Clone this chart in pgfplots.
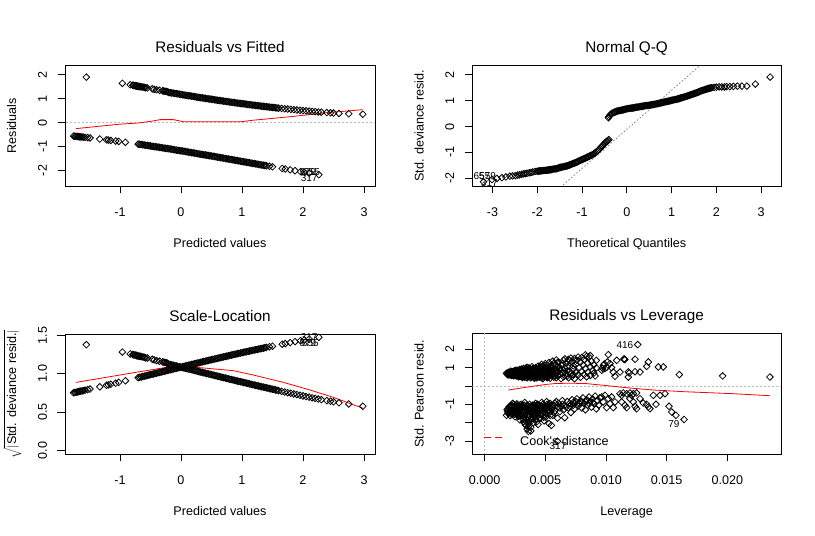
\documentclass[border=0pt]{standalone}
\usepackage{fontspec}
\setmainfont{Liberation Sans}
\usepackage{pgfplots}
\pgfplotsset{compat=1.18}
\pgfplotsset{
  rd/.style={
    scale only axis, anchor=south west, clip=true,
    axis line style={line width=0.8pt},
    tick align=outside, major tick length=7.5pt,
    xtick pos=bottom, ytick pos=left,
    tick style={black, line width=0.8pt},
    tick label style={font=\fontsize{12.6}{15}\selectfont},
    label style={font=\fontsize{12.6}{15}\selectfont},
    xticklabel style={anchor=base, yshift=-23pt},
    yticklabel style={xshift=-10.7pt, rotate=90, anchor=base},
    xlabel style={at={(axis description cs:0.5,0)}, anchor=base, yshift=-61.5pt},
    ylabel style={at={(axis description cs:-0.158,0.5)}, anchor=base},
    title style={at={(axis description cs:0.5,1)}, anchor=base, yshift=6.5pt, font=\fontsize{15.3}{18}\selectfont},
    scaled ticks=false,
  },
  pts/.style={only marks, mark=square, mark size=2.35pt, mark options={rotate=45, line width=0.8pt, draw=black, fill=none}},
}
\tikzset{idl/.style={font=\fontsize{10}{12}\selectfont, text=black, inner sep=0pt}}
\begin{document}
\begin{tikzpicture}
\useasboundingbox (0pt,0pt) rectangle (815pt,536pt);
% ---------------- Panel 1: Residuals vs Fitted
\begin{axis}[rd, at={(65pt,350pt)}, width=310pt, height=120.7pt,
  xmin=-1.90, xmax=3.18, ymin=-2.646, ymax=2.394,
  xtick={-1,0,1,2,3}, xticklabels={-1,0,1,2,3},
  ytick={-2,-1,0,1,2}, yticklabels={-2,-1,0,1,2},
  title={Residuals vs Fitted}, xlabel={Predicted values}, ylabel={Residuals}]
\addplot[gray!55, dash pattern=on 2pt off 2pt, line width=0.7pt] coordinates {(-3,0) (4,0)};
\addplot[pts] coordinates {
(-1.55,1.90) (-0.96,1.64) (-0.83,1.58) (-0.79,1.56) (-0.77,1.55) (-0.75,1.54) (-0.73,1.53) (-0.71,1.52) (-0.69,1.51) (-0.66,1.50) (-0.62,1.48) (-0.58,1.46) (-0.55,1.45) (-0.47,1.41) (-0.44,1.39) (-0.40,1.37) (-0.30,1.33) (-0.26,1.31) (-0.22,1.29)
(-0.78,1.555) (-0.74,1.535) (-0.72,1.525) (-0.68,1.505) (-0.64,1.49) (-0.60,1.47) (-0.35,1.35) (-0.28,1.32) (-0.24,1.30)
(-0.20,1.263) (-0.15,1.241) (-0.10,1.220) (-0.05,1.198) (0,1.177) (0.05,1.156) (0.10,1.135) (0.15,1.114) (0.20,1.094) (0.25,1.073) (0.30,1.053) (0.35,1.033) (0.40,1.013) (0.45,0.993) (0.50,0.974) (0.55,0.954) (0.60,0.935) (0.65,0.916) (0.70,0.898) (0.75,0.880) (0.80,0.862) (0.85,0.844) (0.90,0.826) (0.95,0.809) (1.00,0.792) (1.05,0.775) (1.10,0.758) (1.15,0.742) (1.20,0.726) (1.25,0.710) (1.30,0.694) (1.35,0.679) (1.40,0.664) (1.45,0.649) (1.50,0.635) (1.55,0.620) (1.60,0.606) (1.65,0.592) (1.70,0.579) (1.75,0.566) (1.80,0.553) (1.85,0.540) (1.90,0.528) (1.95,0.516) (2.00,0.504) (2.05,0.492) (2.10,0.481) (2.15,0.469) (2.20,0.458) (2.25,0.447) (2.30,0.437)
(-0.175,1.252) (-0.125,1.231) (-0.075,1.209) (-0.025,1.188) (0.025,1.167) (0.075,1.146) (0.125,1.125) (0.175,1.104) (0.225,1.084) (0.275,1.063) (0.325,1.043) (0.375,1.023) (0.425,1.003) (0.475,0.984) (0.525,0.964) (0.575,0.945) (0.625,0.926) (0.675,0.907) (0.725,0.889) (0.775,0.871) (0.825,0.853) (0.875,0.835) (0.925,0.818) (0.975,0.801) (1.025,0.784) (1.075,0.767) (1.125,0.750) (1.175,0.734) (1.225,0.718) (1.275,0.702) (1.325,0.687) (1.375,0.672) (1.425,0.657) (1.475,0.642) (1.525,0.628) (1.575,0.613)
(2.39,0.42) (2.45,0.41) (2.50,0.40) (2.59,0.385) (2.75,0.37) (2.98,0.35)
(-1.76,-0.563) (-1.74,-0.568) (-1.72,-0.573) (-1.70,-0.579) (-1.68,-0.585) (-1.66,-0.590) (-1.64,-0.596) (-1.62,-0.601) (-1.60,-0.606) (-1.57,-0.615) (-1.53,-0.626) (-1.49,-0.638)
(-1.33,-0.685) (-1.22,-0.719) (-1.19,-0.727) (-1.15,-0.742) (-1.07,-0.768) (-1.02,-0.785) (-0.91,-0.822)
(-0.70,-0.898) (-0.65,-0.916) (-0.60,-0.935) (-0.55,-0.954) (-0.50,-0.974) (-0.45,-0.993) (-0.40,-1.013) (-0.35,-1.033) (-0.30,-1.053) (-0.25,-1.073) (-0.20,-1.094) (-0.15,-1.114) (-0.10,-1.135) (-0.05,-1.156) (0,-1.177) (0.05,-1.198) (0.10,-1.220) (0.15,-1.241) (0.20,-1.263) (0.25,-1.285) (0.30,-1.307) (0.35,-1.329) (0.40,-1.351) (0.45,-1.373) (0.50,-1.396) (0.55,-1.418) (0.60,-1.440) (0.65,-1.462) (0.70,-1.485) (0.75,-1.507) (0.80,-1.530) (0.85,-1.553) (0.90,-1.576) (0.95,-1.598) (1.00,-1.621) (1.05,-1.643) (1.10,-1.666) (1.15,-1.688) (1.20,-1.711) (1.25,-1.733) (1.30,-1.756) (1.35,-1.778) (1.40,-1.800) (1.45,-1.823) (1.50,-1.845)
(-0.675,-0.907) (-0.625,-0.926) (-0.575,-0.945) (-0.525,-0.964) (-0.475,-0.984) (-0.425,-1.003) (-0.375,-1.023) (-0.325,-1.043) (-0.275,-1.063) (-0.225,-1.084) (-0.175,-1.104) (-0.125,-1.125) (-0.075,-1.146) (-0.025,-1.167) (0.025,-1.188) (0.075,-1.209) (0.125,-1.231) (0.175,-1.252) (0.225,-1.274) (0.275,-1.296) (0.325,-1.318) (0.375,-1.340) (0.425,-1.362) (0.475,-1.385) (0.525,-1.407) (0.575,-1.429) (0.625,-1.451) (0.675,-1.474) (0.725,-1.496) (0.775,-1.519) (0.825,-1.542) (0.875,-1.565) (0.925,-1.587) (0.975,-1.610) (1.025,-1.632) (1.075,-1.655) (1.125,-1.677) (1.175,-1.700) (1.225,-1.722) (1.275,-1.745) (1.325,-1.767) (1.375,-1.789)
(1.66,-1.915) (1.71,-1.937) (1.79,-1.972) (1.87,-2.007) (1.96,-2.045) (2.02,-2.071) (2.10,-2.105) (2.26,-2.172)
};
\addplot[red, line width=0.8pt] coordinates {
(-1.721,-0.25) (-1.026,-0.07) (-0.694,-0.014) (-0.454,0.07) (-0.345,0.125) (-0.126,0.125) (0.038,0.04) (0.994,0.04) (1.18,0.10) (1.84,0.26) (2.33,0.40) (2.976,0.54)
};
\node[idl] at (axis cs:2.08,-2.06) {579};
\node[idl] at (axis cs:2.14,-2.05) {655};
\node[idl] at (axis cs:2.10,-2.32) {317};
\end{axis}
% ---------------- Panel 2: Normal Q-Q
\begin{axis}[rd, at={(472.3pt,350pt)}, width=308.7pt, height=120.7pt,
  xmin=-3.45, xmax=3.443, ymin=-2.30, ymax=2.366,
  xtick={-3,-2,-1,0,1,2,3}, xticklabels={-3,-2,-1,0,1,2,3},
  ytick={-2,-1,0,1,2}, yticklabels={-2,-1,0,1,2},
  title={Normal Q-Q}, xlabel={Theoretical Quantiles}, ylabel={Std. deviance resid.}]
\addplot[black!55, dash pattern=on 1.5pt off 2pt, line width=0.7pt] coordinates {(-3.6,-5.546) (3.6,5.326)};
\addplot[pts] coordinates {
(-3.20,-2.14) (-3.01,-2.05) (-2.90,-2.01) (-2.79,-1.98) (-2.70,-1.95) (-2.61,-1.92) (-2.55,-1.91) (-2.49,-1.90) (-2.44,-1.88) (-2.40,-1.87) (-2.35,-1.85) (-2.31,-1.83) (-2.27,-1.82) (-2.23,-1.81) (-2.18,-1.79) (-2.14,-1.78) (-2.10,-1.76) (-2.05,-1.74)
(-2.00,-1.73) (-1.95,-1.72) (-1.90,-1.71) (-1.85,-1.70) (-1.80,-1.69) (-1.75,-1.68) (-1.70,-1.67) (-1.65,-1.65) (-1.60,-1.64) (-1.55,-1.62) (-1.50,-1.59) (-1.45,-1.57) (-1.40,-1.55) (-1.35,-1.53) (-1.30,-1.50) (-1.25,-1.47) (-1.20,-1.43) (-1.15,-1.40) (-1.10,-1.36) (-1.05,-1.32) (-1.00,-1.28) (-0.95,-1.24) (-0.90,-1.20) (-0.85,-1.16) (-0.80,-1.12) (-0.75,-1.07) (-0.70,-1.01) (-0.65,-0.94) (-0.60,-0.85) (-0.55,-0.76) (-0.50,-0.66) (-0.46,-0.59) (-0.42,-0.54) (-0.40,-0.51)
(-1.975,-1.725) (-1.925,-1.715) (-1.875,-1.705) (-1.825,-1.695) (-1.775,-1.685) (-1.725,-1.675) (-1.675,-1.66) (-1.625,-1.645) (-1.575,-1.63) (-1.525,-1.605) (-1.475,-1.58) (-1.425,-1.56) (-1.375,-1.54) (-1.325,-1.515) (-1.275,-1.485) (-1.225,-1.45) (-1.175,-1.415) (-1.125,-1.38) (-1.075,-1.34) (-1.025,-1.30) (-0.975,-1.26) (-0.925,-1.22) (-0.875,-1.18) (-0.825,-1.14) (-0.775,-1.095) (-0.725,-1.04) (-0.675,-0.975) (-0.625,-0.895) (-0.575,-0.805) (-0.525,-0.71) (-0.48,-0.625) (-0.44,-0.565)
(-0.41,0.34) (-0.40,0.38) (-0.38,0.43) (-0.36,0.47) (-0.33,0.51) (-0.30,0.54) (-0.25,0.57) (-0.20,0.60) (-0.15,0.62) (-0.10,0.64) (-0.05,0.66) (0,0.68) (0.05,0.70) (0.10,0.71) (0.15,0.72) (0.20,0.74) (0.25,0.75) (0.30,0.77) (0.35,0.78) (0.40,0.80) (0.45,0.81) (0.50,0.82) (0.55,0.84) (0.60,0.85) (0.65,0.87) (0.70,0.89) (0.75,0.91) (0.80,0.93) (0.85,0.95) (0.90,0.97) (0.95,0.99) (1.00,1.01) (1.05,1.03) (1.10,1.05) (1.15,1.07) (1.20,1.10) (1.25,1.12) (1.30,1.15) (1.35,1.18) (1.40,1.21) (1.45,1.24) (1.50,1.27) (1.55,1.30) (1.60,1.33) (1.65,1.37) (1.70,1.40) (1.75,1.43) (1.80,1.46) (1.85,1.48) (1.90,1.50) (1.95,1.51) (2.00,1.52)
(-0.275,0.555) (-0.225,0.585) (-0.175,0.61) (-0.125,0.63) (-0.075,0.65) (-0.025,0.67) (0.025,0.69) (0.075,0.705) (0.125,0.715) (0.175,0.73) (0.225,0.745) (0.275,0.76) (0.325,0.775) (0.375,0.79) (0.425,0.805) (0.475,0.815) (0.525,0.83) (0.575,0.845) (0.625,0.86) (0.675,0.88) (0.725,0.90) (0.775,0.92) (0.825,0.94) (0.875,0.96) (0.925,0.98) (0.975,1.00) (1.025,1.02) (1.075,1.04) (1.125,1.06) (1.175,1.085) (1.225,1.11) (1.275,1.135) (1.325,1.165) (1.375,1.195) (1.425,1.225) (1.475,1.255) (1.525,1.285) (1.575,1.315) (1.625,1.35) (1.675,1.385) (1.725,1.415) (1.775,1.445) (1.825,1.47) (1.875,1.49)
(2.06,1.53) (2.12,1.53) (2.18,1.53) (2.23,1.54) (2.30,1.54) (2.38,1.55) (2.47,1.56) (2.57,1.56) (2.68,1.56) (2.87,1.64) (3.20,1.91)
};
\node[idl] at (axis cs:-3.234,-1.93) {655};
\node[idl] at (axis cs:-3.11,-1.92) {579};
\node[idl] at (axis cs:-3.07,-2.17) {317};
\end{axis}
% ---------------- Panel 3: Scale-Location
\begin{axis}[rd, at={(65pt,82pt)}, width=310pt, height=120pt,
  xmin=-1.90, xmax=3.18, ymin=-0.048, ymax=1.517,
  xtick={-1,0,1,2,3}, xticklabels={-1,0,1,2,3},
  ytick={0,0.5,1,1.5}, yticklabels={0.0,0.5,1.0,1.5},
  title={Scale-Location}, xlabel={Predicted values},
  ylabel={$\sqrt{\left|\mbox{Std. deviance resid.}\right|}$}]
\addplot[pts] coordinates {
(-1.55,1.378) (-0.96,1.281) (-0.83,1.257) (-0.79,1.249) (-0.77,1.245) (-0.75,1.241) (-0.73,1.237) (-0.71,1.233) (-0.69,1.229) (-0.66,1.225) (-0.62,1.217) (-0.58,1.208) (-0.55,1.204) (-0.47,1.187) (-0.44,1.179) (-0.40,1.170) (-0.30,1.153) (-0.26,1.145) (-0.22,1.136)
(-0.78,1.247) (-0.74,1.239) (-0.72,1.235) (-0.68,1.227) (-0.64,1.221) (-0.60,1.212) (-0.35,1.162) (-0.28,1.149) (-0.24,1.140)
(-0.20,1.124) (-0.15,1.114) (-0.10,1.105) (-0.05,1.095) (0,1.085) (0.05,1.075) (0.10,1.065) (0.15,1.055) (0.20,1.046) (0.25,1.036) (0.30,1.026) (0.35,1.016) (0.40,1.006) (0.45,0.996) (0.50,0.987) (0.55,0.977) (0.60,0.967) (0.65,0.957) (0.70,0.948) (0.75,0.938) (0.80,0.928) (0.85,0.919) (0.90,0.909) (0.95,0.899) (1.00,0.890) (1.05,0.880) (1.10,0.871) (1.15,0.861) (1.20,0.852) (1.25,0.843) (1.30,0.833) (1.35,0.824) (1.40,0.815) (1.45,0.806) (1.50,0.797) (1.55,0.787) (1.60,0.778) (1.65,0.769) (1.70,0.761) (1.75,0.752) (1.80,0.744) (1.85,0.735) (1.90,0.727) (1.95,0.718) (2.00,0.710) (2.05,0.701) (2.10,0.694) (2.15,0.685) (2.20,0.677) (2.25,0.669) (2.30,0.661)
(-0.175,1.119) (-0.125,1.110) (-0.075,1.100) (-0.025,1.090) (0.025,1.080) (0.075,1.070) (0.125,1.061) (0.175,1.051) (0.225,1.041) (0.275,1.031) (0.325,1.021) (0.375,1.011) (0.425,1.001) (0.475,0.992) (0.525,0.982) (0.575,0.972) (0.625,0.962) (0.675,0.952) (0.725,0.943) (0.775,0.933) (0.825,0.924) (0.875,0.914) (0.925,0.904) (0.975,0.895) (1.025,0.885) (1.075,0.876) (1.125,0.866) (1.175,0.857) (1.225,0.847) (1.275,0.838) (1.325,0.829) (1.375,0.820) (1.425,0.811) (1.475,0.801) (1.525,0.792) (1.575,0.783)
(2.39,0.648) (2.45,0.640) (2.50,0.632) (2.59,0.620) (2.75,0.605) (2.98,0.575)
(-1.76,0.750) (-1.74,0.754) (-1.72,0.757) (-1.70,0.761) (-1.68,0.765) (-1.66,0.768) (-1.64,0.772) (-1.62,0.775) (-1.60,0.778) (-1.57,0.784) (-1.53,0.791) (-1.49,0.799)
(-1.33,0.828) (-1.22,0.848) (-1.19,0.853) (-1.15,0.861) (-1.07,0.876) (-1.02,0.886) (-0.91,0.907)
(-0.70,0.948) (-0.65,0.957) (-0.60,0.967) (-0.55,0.977) (-0.50,0.987) (-0.45,0.996) (-0.40,1.006) (-0.35,1.016) (-0.30,1.026) (-0.25,1.036) (-0.20,1.046) (-0.15,1.055) (-0.10,1.065) (-0.05,1.075) (0,1.085) (0.05,1.095) (0.10,1.105) (0.15,1.114) (0.20,1.124) (0.25,1.134) (0.30,1.143) (0.35,1.153) (0.40,1.162) (0.45,1.172) (0.50,1.182) (0.55,1.191) (0.60,1.200) (0.65,1.209) (0.70,1.219) (0.75,1.228) (0.80,1.237) (0.85,1.246) (0.90,1.255) (0.95,1.264) (1.00,1.273) (1.05,1.282) (1.10,1.291) (1.15,1.299) (1.20,1.308) (1.25,1.316) (1.30,1.325) (1.35,1.333) (1.40,1.342) (1.45,1.350) (1.50,1.358)
(-0.675,0.952) (-0.625,0.962) (-0.575,0.972) (-0.525,0.982) (-0.475,0.992) (-0.425,1.001) (-0.375,1.011) (-0.325,1.021) (-0.275,1.031) (-0.225,1.041) (-0.175,1.051) (-0.125,1.061) (-0.075,1.070) (-0.025,1.080) (0.025,1.090) (0.075,1.100) (0.125,1.110) (0.175,1.119) (0.225,1.129) (0.275,1.138) (0.325,1.148) (0.375,1.158) (0.425,1.167) (0.475,1.177) (0.525,1.186) (0.575,1.195) (0.625,1.205) (0.675,1.214) (0.725,1.223) (0.775,1.232) (0.825,1.242) (0.875,1.251) (0.925,1.260) (0.975,1.269) (1.025,1.278) (1.075,1.286) (1.125,1.295) (1.175,1.304) (1.225,1.312) (1.275,1.321) (1.325,1.329) (1.375,1.338)
(1.66,1.384) (1.71,1.392) (1.79,1.404) (1.87,1.417) (1.96,1.430) (2.02,1.439) (2.10,1.451) (2.26,1.474)
};
\addplot[red, line width=0.8pt] coordinates {
(-1.721,0.886) (-0.672,1.026) (-0.236,1.082) (-0.017,1.091) (0.31,1.078) (0.857,1.039) (1.185,0.982) (1.675,0.887) (2.113,0.787) (2.495,0.691) (2.987,0.547)
};
\node[idl] at (axis cs:2.10,1.474) {317};
\node[idl] at (axis cs:2.08,1.405) {579};
\node[idl] at (axis cs:2.12,1.395) {655};
\end{axis}
% ---------------- Panel 4: Residuals vs Leverage
\begin{axis}[rd, at={(472.3pt,82pt)}, width=308.7pt, height=120.7pt,
  xmin=-0.00102, xmax=0.02442, ymin=-3.71, ymax=2.875,
  xtick={0,0.005,0.01,0.015,0.02}, xticklabels={0.000,0.005,0.010,0.015,0.020},
  ytick={-3,-2,-1,0,1,2}, yticklabels={-3,,-1,,1,2},
  title={Residuals vs Leverage}, xlabel={Leverage}, ylabel={Std. Pearson resid.}]
\addplot[gray!55, dash pattern=on 2pt off 2pt, line width=0.7pt] coordinates {(-0.002,0) (0.03,0)};
\addplot[gray!55, dash pattern=on 2pt off 2pt, line width=0.7pt] coordinates {(0,-4) (0,3)};
\addplot[pts] coordinates {
(0.0018,0.70) (0.0019,0.62) (0.0020,0.75) (0.0021,0.66) (0.0022,0.58) (0.0022,0.78) (0.0023,0.70) (0.0024,0.62) (0.0025,0.76) (0.0025,0.84) (0.0026,0.55) (0.0026,0.68) (0.0027,0.80) (0.0028,0.60) (0.0028,0.72) (0.0029,0.90) (0.0030,0.52) (0.0030,0.65) (0.0030,0.78)
(0.0031,0.85) (0.0032,0.58) (0.0032,0.96) (0.0033,0.48) (0.0033,0.70) (0.0034,0.80) (0.0035,0.62) (0.0035,1.02) (0.0036,0.52) (0.0036,0.90) (0.0037,0.74) (0.0038,0.45) (0.0038,0.60) (0.0039,0.85) (0.0039,1.05) (0.0040,0.68) (0.0041,0.52) (0.0041,0.95) (0.0042,0.78) (0.0043,0.44) (0.0043,0.62) (0.0044,0.88) (0.0044,1.08) (0.0045,0.72)
(0.0046,0.50) (0.0046,0.98) (0.0047,0.82) (0.0047,1.18) (0.0048,0.62) (0.0048,0.40) (0.0049,0.90) (0.0050,0.72) (0.0050,1.22) (0.0051,0.48) (0.0051,1.05) (0.0052,0.60) (0.0052,0.85) (0.0053,0.98) (0.0053,1.28) (0.0054,0.42) (0.0054,0.70) (0.0055,1.12) (0.0055,0.55) (0.0056,0.80) (0.0056,1.35) (0.0057,1.22) (0.0057,0.65) (0.0058,0.95) (0.0059,0.45) (0.0059,1.42) (0.0060,1.05) (0.0060,0.75)
(0.0061,0.58) (0.0061,1.30) (0.0062,0.88) (0.0063,0.40) (0.0063,1.15) (0.0064,0.70) (0.0065,1.40) (0.0065,0.50) (0.0066,0.98) (0.0066,1.48) (0.0067,0.62) (0.0067,1.25) (0.0068,0.82) (0.0069,0.45) (0.0069,1.45) (0.0070,1.08) (0.0071,0.68) (0.0071,1.52) (0.0072,1.32) (0.0072,0.52) (0.0073,0.92) (0.0074,1.50) (0.0074,0.40) (0.0075,1.18) (0.0075,0.75)
(0.0076,1.40) (0.0077,0.60) (0.0077,1.58) (0.0078,1.00) (0.0079,0.48) (0.0079,1.30) (0.0080,0.80) (0.0080,1.55) (0.0081,1.15) (0.0082,0.62) (0.0082,1.45) (0.0083,0.95) (0.0083,1.70) (0.0084,1.62) (0.0084,0.50) (0.0085,1.25) (0.0085,0.75) (0.0086,1.58) (0.0087,1.05) (0.0087,0.58) (0.0087,1.66) (0.0088,1.35) (0.0089,0.85) (0.0090,0.70) (0.0090,1.15) (0.0091,0.55) (0.0092,0.98) (0.0092,1.40)
(0.0019,0.68) (0.0020,0.60) (0.0021,0.72) (0.0022,0.65) (0.0023,0.62) (0.0023,0.78) (0.0024,0.70) (0.0024,0.56) (0.0025,0.64) (0.0026,0.74) (0.0026,0.86) (0.0027,0.58) (0.0027,0.66) (0.0028,0.80) (0.0028,0.50) (0.0029,0.68) (0.0029,0.58) (0.0030,0.88) (0.0031,0.70) (0.0031,0.46) (0.0032,0.78) (0.0032,0.65) (0.0033,0.90) (0.0033,0.55) (0.0034,0.65) (0.0034,0.98) (0.0035,0.75) (0.0035,0.45) (0.0036,0.82) (0.0036,0.66) (0.0037,0.56) (0.0037,0.95) (0.0038,0.72) (0.0038,0.82) (0.0039,0.50) (0.0039,0.64) (0.0040,0.92) (0.0040,0.78) (0.0041,0.62) (0.0041,0.42) (0.0042,0.88) (0.0042,1.00) (0.0043,0.72) (0.0043,0.52) (0.0044,0.65) (0.0044,0.78) (0.0045,0.95) (0.0045,0.48) (0.0046,0.60) (0.0046,0.78) (0.0047,0.70) (0.0047,0.45) (0.0048,0.88) (0.0048,1.05) (0.0049,0.55) (0.0049,0.78) (0.0050,0.62) (0.0050,0.95) (0.0051,0.75) (0.0052,1.12) (0.0052,0.45) (0.0053,0.65) (0.0054,0.85) (0.0055,0.95) (0.0056,0.60) (0.0056,1.00) (0.0057,0.48) (0.0058,0.72) (0.0058,1.15) (0.0059,0.88) (0.0060,0.55) (0.0060,1.28) (0.0062,1.00) (0.0062,0.65) (0.0064,0.90) (0.0064,1.22) (0.0066,0.78) (0.0068,1.05) (0.0068,0.55) (0.0070,0.80) (0.0070,1.38) (0.0073,0.62) (0.0073,1.10)
(0.00185,0.66) (0.00195,0.74) (0.00205,0.70) (0.00215,0.62) (0.00215,0.80) (0.00225,0.68) (0.00235,0.58) (0.00235,0.74) (0.00245,0.66) (0.00245,0.82) (0.00255,0.60) (0.00255,0.72) (0.00265,0.62) (0.00265,0.78) (0.00275,0.70) (0.00275,0.86) (0.00285,0.55) (0.00285,0.66) (0.00295,0.75) (0.00295,0.84) (0.00305,0.60) (0.00305,0.92) (0.00315,0.52) (0.00315,0.75) (0.00325,0.62) (0.00325,0.85) (0.00335,0.58) (0.00335,0.75) (0.00345,0.48) (0.00345,0.70) (0.00345,0.90) (0.00355,0.58) (0.00355,0.80) (0.00365,0.65) (0.00365,0.98) (0.00375,0.50) (0.00375,0.85) (0.00385,0.68) (0.00385,0.55) (0.00395,0.78) (0.00395,0.95) (0.00405,0.58) (0.00405,0.85) (0.00415,0.70) (0.00415,0.48) (0.00425,0.65) (0.00425,0.92) (0.00435,0.80) (0.00435,0.58) (0.00445,0.55) (0.00445,0.98) (0.00455,0.68) (0.00455,0.85) (0.00465,0.58) (0.00465,1.05) (0.00475,0.75) (0.00475,0.92) (0.00485,0.50) (0.00485,0.68) (0.00495,0.82) (0.00495,1.12) (0.00505,0.58) (0.00505,0.88) (0.00515,0.68) (0.00525,0.78) (0.00525,0.50) (0.00535,0.88) (0.00545,0.62) (0.00545,1.02) (0.00555,0.75) (0.00565,0.90) (0.00575,0.55) (0.00585,0.82)
(0.00964,0.86) (0.00978,1.13) (0.00991,0.95) (0.01011,1.31) (0.01019,1.71) (0.01033,1.22) (0.01046,1.00) (0.01060,0.76) (0.01074,0.53) (0.01088,1.40) (0.01115,0.76) (0.01148,1.46) (0.01150,1.48) (0.01156,1.44) (0.01184,0.77) (0.01192,0.71) (0.01184,0.49) (0.01239,1.46) (0.01239,0.78) (0.01280,0.76) (0.01335,1.07) (0.01349,1.31) (0.01431,1.04) (0.01472,1.04) (0.01604,0.62) (0.01961,0.55) (0.02351,0.49) (0.01261,2.26) (0.00985,1.20) (0.01005,1.02) (0.0097,0.98)
(0.0018,-1.60) (0.0019,-1.25) (0.0020,-1.45) (0.0021,-1.10) (0.0021,-1.62) (0.0022,-1.30) (0.0023,-0.95) (0.0023,-1.55) (0.0024,-1.20) (0.0025,-1.40) (0.0025,-1.68) (0.0026,-1.05) (0.0027,-1.30) (0.0027,-1.60) (0.0028,-1.15) (0.0029,-1.45) (0.0029,-1.85) (0.0030,-1.00) (0.0030,-1.30)
(0.0031,-1.60) (0.0032,-1.15) (0.0032,-1.95) (0.0033,-1.40) (0.0033,-0.90) (0.0034,-1.75) (0.0034,-2.15) (0.0035,-1.25) (0.0035,-2.35) (0.0036,-1.55) (0.0036,-2.48) (0.0037,-1.00) (0.0037,-1.90) (0.0038,-1.35) (0.0038,-2.25) (0.0039,-1.70) (0.0040,-1.15) (0.0040,-2.00) (0.0041,-1.45) (0.0042,-0.95) (0.0042,-1.80) (0.0043,-1.25) (0.0044,-1.60) (0.0044,-2.10) (0.0045,-1.05) (0.0045,-1.40)
(0.0046,-1.75) (0.0047,-1.20) (0.0047,-0.90) (0.0048,-1.50) (0.0049,-1.05) (0.0049,-1.90) (0.0050,-1.30) (0.0051,-0.85) (0.0051,-1.65) (0.0052,-1.15) (0.0053,-2.05) (0.0053,-1.45) (0.0054,-0.95) (0.0055,-1.25) (0.0055,-2.15) (0.0056,-1.60) (0.0057,-1.05) (0.0058,-1.35) (0.0059,-0.85) (0.0060,-1.15) (0.0060,-1.75)
(0.0061,-0.95) (0.0062,-1.40) (0.0063,-1.10) (0.0064,-0.80) (0.0065,-1.30) (0.0066,-1.05) (0.0066,-1.73) (0.0068,-0.85) (0.0069,-1.20) (0.0070,-0.95) (0.0071,-1.45) (0.0072,-0.75) (0.0073,-1.05) (0.0074,-1.25) (0.0075,-0.85) (0.0076,-0.70) (0.0077,-1.10) (0.0078,-0.95)
(0.0079,-0.80) (0.0080,-1.20) (0.0081,-0.65) (0.0082,-0.95) (0.0083,-1.30) (0.0084,-0.75) (0.0085,-1.05) (0.0086,-0.60) (0.0087,-0.85) (0.0088,-1.15) (0.0089,-0.70) (0.0090,-0.95) (0.0091,-0.55) (0.0092,-1.25) (0.0093,-0.80) (0.0094,-1.05) (0.0095,-0.65)
(0.0019,-1.40) (0.0020,-1.15) (0.0021,-1.35) (0.0022,-1.55) (0.0022,-1.05) (0.0023,-1.25) (0.0024,-1.45) (0.0024,-1.00) (0.0025,-1.18) (0.0026,-1.50) (0.0026,-1.30) (0.0027,-1.10) (0.0028,-1.65) (0.0028,-1.35) (0.0029,-1.20) (0.0030,-1.55) (0.0031,-1.05) (0.0031,-1.35) (0.0032,-1.70) (0.0033,-1.20) (0.0033,-2.05) (0.0034,-1.50) (0.0035,-1.05) (0.0035,-1.85) (0.0036,-1.30) (0.0036,-2.20) (0.0037,-1.65) (0.0038,-1.10) (0.0038,-2.45) (0.0039,-1.45) (0.0040,-1.80) (0.0041,-1.05) (0.0041,-1.25) (0.0042,-1.55) (0.0043,-1.95) (0.0043,-1.05) (0.0044,-1.35) (0.0045,-1.75) (0.0046,-1.30) (0.0047,-1.55) (0.0048,-1.00) (0.0049,-1.40) (0.0050,-1.70) (0.0050,-1.10) (0.0052,-1.35) (0.0053,-1.00) (0.0054,-1.60) (0.0056,-1.20) (0.0057,-1.45) (0.0058,-0.95) (0.0062,-1.20) (0.0064,-1.00) (0.0067,-1.15) (0.0070,-1.10) (0.0073,-0.90) (0.0076,-1.00) (0.0080,-0.90) (0.0083,-0.85) (0.0086,-0.95) (0.0089,-0.90)
(0.00185,-1.30) (0.00195,-1.50) (0.00205,-1.20) (0.00215,-1.45) (0.00225,-1.15) (0.00225,-1.40) (0.00235,-1.30) (0.00245,-1.10) (0.00245,-1.55) (0.00255,-1.25) (0.00265,-1.40) (0.00265,-0.98) (0.00275,-1.20) (0.00275,-1.50) (0.00285,-1.05) (0.00295,-1.30) (0.00295,-1.62) (0.00305,-1.15) (0.00315,-1.45) (0.00315,-1.80) (0.00325,-1.05) (0.00325,-1.30) (0.00335,-1.55) (0.00345,-1.20) (0.00345,-1.95) (0.00355,-1.40) (0.00355,-1.70) (0.00365,-1.15) (0.00365,-2.05) (0.00375,-1.45) (0.00385,-1.20) (0.00385,-1.80) (0.00395,-1.05) (0.00395,-1.55) (0.00405,-1.30) (0.00415,-1.65) (0.00425,-1.15) (0.00425,-1.45) (0.00435,-1.00) (0.00445,-1.25) (0.00455,-1.55) (0.00465,-1.10) (0.00475,-1.35) (0.00485,-1.70) (0.00495,-1.20) (0.00505,-1.50) (0.00515,-1.00) (0.00525,-1.30) (0.00535,-1.15) (0.00545,-1.40) (0.00555,-1.05)
(0.00964,-0.60) (0.00991,-0.51) (0.01019,-0.69) (0.01046,-0.60) (0.00977,-0.87) (0.01032,-0.96) (0.01060,-1.18) (0.01005,-1.18) (0.01074,-0.87) (0.01115,-0.42) (0.01142,-0.38) (0.01170,-0.42) (0.01197,-0.38) (0.01225,-0.42) (0.01252,-0.38) (0.01129,-0.51) (0.01211,-0.51) (0.01129,-0.87) (0.01156,-1.05) (0.01170,-1.18) (0.01225,-0.87) (0.01239,-1.11) (0.01252,-1.24) (0.01307,-0.93) (0.01335,-1.00) (0.01349,-1.14) (0.01362,-1.24) (0.01390,-0.51) (0.01445,-0.51) (0.01486,-0.42) (0.01412,-1.00) (0.01519,-1.11) (0.01541,-1.42) (0.01576,-1.60) (0.01643,-1.83) (0.01197,-0.69) (0.01280,-0.69)
(0.0060,-3.02)
};
\addplot[red, line width=0.8pt] coordinates {
(0.00195,-0.22) (0.0030,-0.11) (0.0040,-0.01) (0.0050,0.08) (0.0059,0.14) (0.0072,0.15) (0.0084,0.13) (0.0093,0.07) (0.0101,0.02) (0.0112,-0.06) (0.0123,-0.13) (0.0139,-0.22) (0.0164,-0.31) (0.0205,-0.42) (0.0235,-0.53)
};
\draw[red, line width=0.8pt, dash pattern=on 7pt off 4pt] (axis cs:-0.00006,-2.82) -- (axis cs:0.00167,-2.82);
\node[anchor=base west, inner sep=0pt, font=\fontsize{12.6}{15}\selectfont] at (axis cs:0.00291,-3.26) {Cook\textquotesingle s distance};
\node[idl] at (axis cs:0.01156,2.24) {416};
\node[idl] at (axis cs:0.0156,-2.09) {79};
\node[idl] at (axis cs:0.00604,-3.27) {317};
\end{axis}
\end{tikzpicture}
\end{document}
